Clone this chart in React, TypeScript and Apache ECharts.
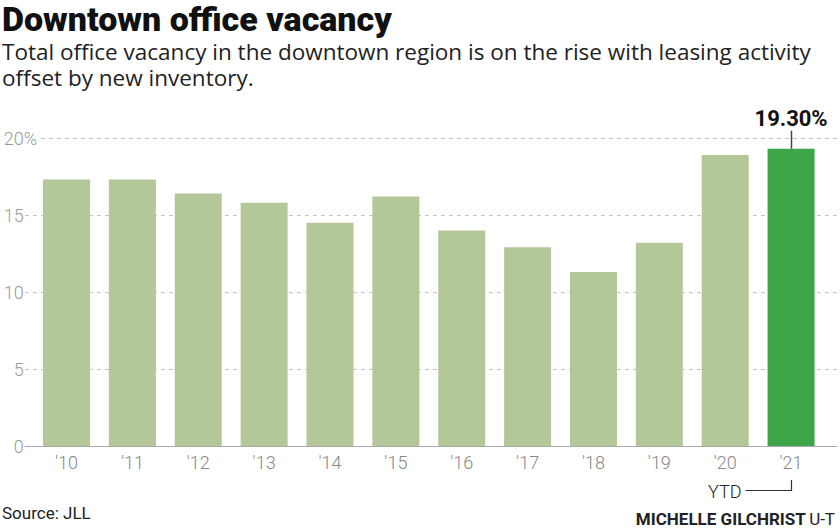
import React, { useEffect, useRef } from "react";
import * as echarts from "echarts";

const years = ["'10", "'11", "'12", "'13", "'14", "'15", "'16", "'17", "'18", "'19", "'20", "'21"];
const vacancy = [17.3, 17.3, 16.4, 15.8, 14.5, 16.2, 14.0, 12.9, 11.3, 13.2, 18.9, 19.3];
const highlightIndex = 11;
const highlightLabel = "19.30%";
const yTicks = [0, 5, 10, 15, 20];

const TITLE = "Downtown office vacancy";
const SUBTITLE = "Total office vacancy in the downtown region is on the rise with leasing activity\noffset by new inventory.";
const SOURCE = "Source: JLL";

const LIGHT = "#b4c799";
const DARK = "#3ea648";
const FONT = "Roboto, 'Noto Sans', sans-serif";
const SUBFONT = "'Open Sans', Roboto, sans-serif";

export default function App() {
  const ref = useRef<HTMLDivElement>(null);
  useEffect(() => {
    document.body.style.margin = "0";
    if (!ref.current) return;
    const chart = echarts.init(ref.current, undefined, { renderer: "svg" });
    const top = 138;
    const bottom = 85;
    chart.setOption({
      animation: false,
      grid: [
        { left: 25, right: 3, top, bottom },
        { left: 33.6, right: 16, top, bottom },
      ],
      xAxis: [
        {
          gridIndex: 0,
          type: "value",
          min: 0,
          max: 1,
          axisLine: { show: true, lineStyle: { color: "#aaa", width: 1 } },
          axisTick: { show: false },
          axisLabel: { show: false },
          splitLine: { show: false },
        },
        {
          gridIndex: 1,
          type: "category",
          data: years,
          axisLine: { show: false },
          axisTick: { show: false },
          axisLabel: { color: "#888", fontSize: 18, fontWeight: 300, fontFamily: FONT, margin: 7 },
        },
      ],
      yAxis: [
        {
          gridIndex: 0,
          type: "value",
          min: 0,
          max: 20,
          interval: 5,
          axisLine: { show: false },
          axisTick: { show: false },
          splitLine: { show: true, lineStyle: { color: "#c4c4c4", type: [4, 4], width: 1 } },
          axisLabel: {
            margin: -15,
            formatter: (v: number) =>
              v === yTicks[yTicks.length - 1] ? `{n|${v}}{p|%}` : `{n|${v}}{h|%}`,
            rich: {
              n: { color: "#999", fontSize: 18, fontWeight: 300, fontFamily: FONT },
              p: { color: "#999", fontSize: 18, fontWeight: 300, fontFamily: FONT, backgroundColor: "#fff", padding: [0, 3, 0, 0] },
              h: { color: "rgba(0,0,0,0)", fontSize: 18, fontWeight: 300, fontFamily: FONT, padding: [0, 3, 0, 0] },
            },
          },
        },
        {
          gridIndex: 1,
          type: "value",
          min: 0,
          max: 20,
          interval: 5,
          show: false,
          splitLine: { show: false },
        },
      ],
      series: [
        {
          type: "bar",
          xAxisIndex: 1,
          yAxisIndex: 1,
          barWidth: 47,
          data: vacancy.map((v, i) =>
            i === highlightIndex
              ? {
                  value: v,
                  itemStyle: { color: DARK },
                  label: {
                    show: true,
                    position: "top",
                    distance: 19,
                    formatter: highlightLabel,
                    fontSize: 22,
                    fontWeight: "bold",
                    color: "#111",
                    fontFamily: FONT,
                  },
                }
              : { value: v, itemStyle: { color: LIGHT } }
          ),
        },
      ],
      graphic: [
        {
          id: "title",
          type: "text",
          left: 2,
          top: 2,
          style: { text: TITLE, font: `900 34px ${FONT}`, fill: "#111", lineHeight: 34 },
        },
        {
          id: "subtitle",
          type: "text",
          left: 2,
          top: 38,
          style: { text: SUBTITLE, font: `400 22.5px ${SUBFONT}`, fill: "#222", lineHeight: 26 },
        },
        {
          id: "source",
          type: "text",
          left: 2,
          top: 504,
          style: { text: SOURCE, font: `400 17px ${FONT}`, fill: "#222" },
        },
        {
          id: "credit",
          type: "text",
          right: 5,
          top: 510,
          style: {
            text: "{b|MICHELLE GILCHRIST} {r|U-T}",
            rich: {
              b: { font: `700 17px ${FONT}`, fill: "#222" },
              r: { font: `400 17px ${FONT}`, fill: "#222" },
            },
          },
        },
      ],
    });

    const p = chart.convertToPixel({ xAxisIndex: 1, yAxisIndex: 1 }, [highlightIndex, vacancy[highlightIndex]]) as number[];
    const p0 = chart.convertToPixel({ xAxisIndex: 1, yAxisIndex: 1 }, [highlightIndex, 0]) as number[];
    const x = Math.round(p[0]) + 0.5;
    const barTop = p[1];
    const base = p0[1];
    chart.setOption({
      graphic: [
        {
          id: "leader",
          type: "line",
          shape: { x1: x, y1: barTop - 18, x2: x, y2: barTop },
          style: { stroke: "#444", lineWidth: 1.5 },
        },
        {
          id: "ytdline",
          type: "polyline",
          shape: { points: [[x - 46, base + 44.5], [x, base + 44.5], [x, base + 34]] },
          style: { stroke: "#333", lineWidth: 1.2, fill: null },
        },
        {
          id: "ytd",
          type: "text",
          x: x - 50,
          y: base + 45,
          style: { text: "YTD", font: `300 18px ${FONT}`, fill: "#222", align: "right", verticalAlign: "middle" },
        },
      ],
    });

    return () => chart.dispose();
  }, []);
  return <div ref={ref} style={{ width: 840, height: 531 }} />;
}
